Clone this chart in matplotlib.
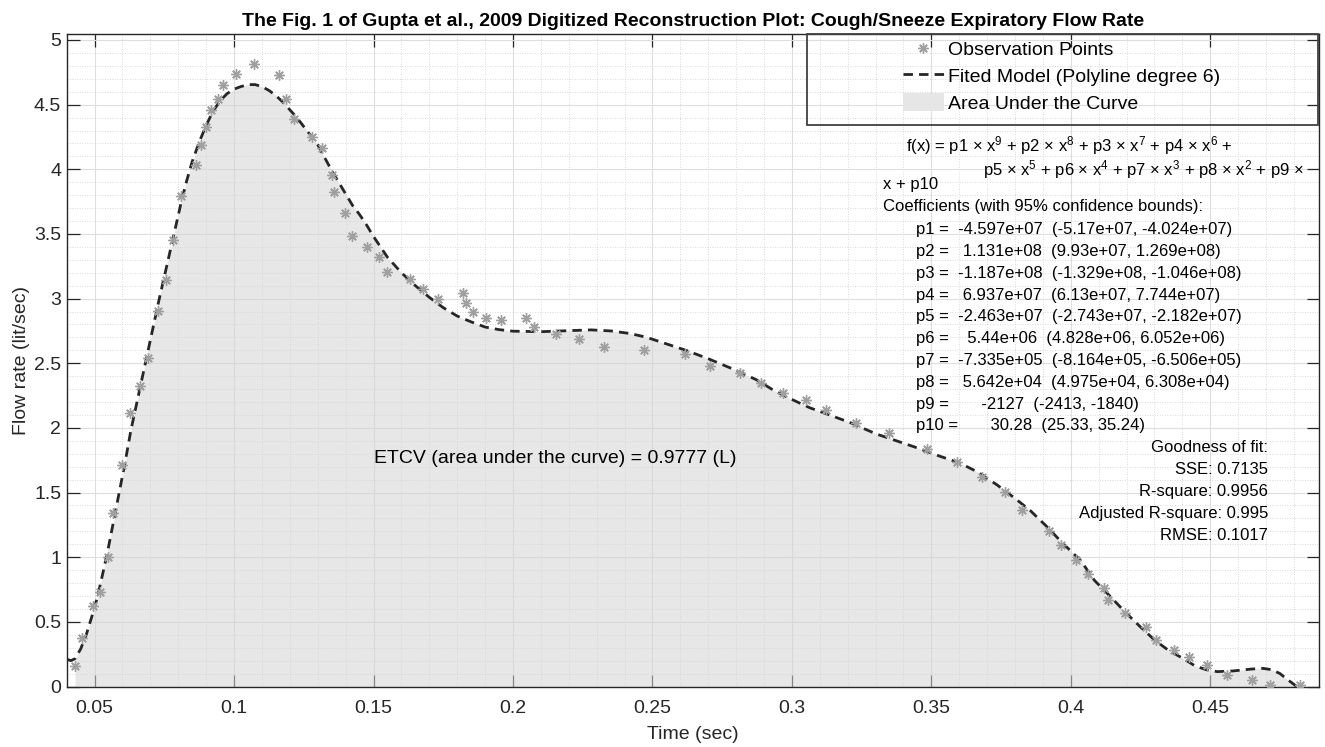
import numpy as np
import matplotlib
matplotlib.use('Agg')
import matplotlib.pyplot as plt
from matplotlib.lines import Line2D
from matplotlib.patches import Patch, Rectangle

plt.rcParams['font.family'] = ['Liberation Sans', 'DejaVu Sans']
plt.rcParams['mathtext.fontset'] = 'custom'
plt.rcParams['mathtext.rm'] = 'Liberation Sans'
plt.rcParams['mathtext.default'] = 'regular'

obs_t = [0.0428, 0.0456, 0.0493, 0.0520, 0.0548, 0.0565, 0.0599, 0.0627, 0.0664, 0.0691,
         0.0727, 0.0756, 0.0781, 0.0808, 0.0862, 0.0881, 0.0899, 0.0917, 0.0943, 0.0962,
         0.1008, 0.1070, 0.1162, 0.1188, 0.1215, 0.1278, 0.1316, 0.1350, 0.1360, 0.1396,
         0.1424, 0.1477, 0.1521, 0.1549, 0.1632, 0.1677, 0.1731, 0.1820, 0.1830, 0.1857,
         0.1903, 0.1957, 0.2046, 0.2075, 0.2155, 0.2237, 0.2327, 0.2471, 0.2615, 0.2706,
         0.2814, 0.2888, 0.2968, 0.3051, 0.3123, 0.3230, 0.3348, 0.3483, 0.3591, 0.3683,
         0.3763, 0.3826, 0.3921, 0.3964, 0.4019, 0.4062, 0.4118, 0.4134, 0.4195, 0.4268,
         0.4306, 0.4369, 0.4425, 0.4487, 0.4559, 0.4649, 0.4714, 0.4820]
obs_q = [0.161, 0.373, 0.625, 0.729, 1.004, 1.344, 1.711, 2.113, 2.324, 2.538,
         2.904, 3.144, 3.451, 3.791, 4.031, 4.188, 4.325, 4.461, 4.546, 4.652,
         4.737, 4.812, 4.729, 4.546, 4.389, 4.252, 4.167, 3.957, 3.828, 3.664,
         3.483, 3.399, 3.324, 3.208, 3.149, 3.072, 2.999, 3.046, 2.964, 2.899,
         2.848, 2.835, 2.848, 2.778, 2.726, 2.685, 2.623, 2.604, 2.572, 2.475,
         2.426, 2.350, 2.268, 2.212, 2.138, 2.040, 1.961, 1.838, 1.734, 1.619,
         1.503, 1.365, 1.205, 1.092, 0.978, 0.870, 0.764, 0.671, 0.568, 0.460,
         0.362, 0.280, 0.226, 0.164, 0.087, 0.048, 0.014, 0.012]

# fitted model
fit_t = [0.0401, 0.0415, 0.043, 0.045, 0.047, 0.049, 0.051, 0.053, 0.055, 0.057,
         0.059, 0.061, 0.063, 0.065, 0.067, 0.069, 0.071, 0.073, 0.075, 0.077,
         0.079, 0.081, 0.083, 0.085, 0.0875, 0.090, 0.0925, 0.095, 0.0975, 0.100,
         0.1025, 0.105, 0.1075, 0.110, 0.1125, 0.115, 0.1175, 0.120, 0.1225, 0.125,
         0.1275, 0.130, 0.1325, 0.135, 0.1375, 0.140, 0.1425, 0.145, 0.1475, 0.150,
         0.1525, 0.155, 0.1575, 0.160, 0.165, 0.170, 0.175, 0.180, 0.185, 0.190,
         0.195, 0.200, 0.210, 0.220, 0.228, 0.235, 0.242, 0.248, 0.255, 0.262,
         0.270, 0.280, 0.2875, 0.2935, 0.300, 0.3065, 0.3135, 0.321, 0.330, 0.3375,
         0.345, 0.3525, 0.360, 0.3665, 0.3735, 0.380, 0.3855, 0.391, 0.397, 0.4035,
         0.4085, 0.414, 0.4195, 0.425, 0.430, 0.435, 0.440, 0.4445, 0.4485, 0.4525,
         0.458, 0.4648, 0.469, 0.472, 0.475, 0.477, 0.481]
fit_q = [0.21, 0.20, 0.215, 0.29, 0.40, 0.54, 0.69, 0.88, 1.08, 1.30,
         1.52, 1.74, 1.98, 2.18, 2.38, 2.58, 2.78, 2.98, 3.17, 3.36,
         3.55, 3.74, 3.91, 4.06, 4.21, 4.34, 4.45, 4.53, 4.585, 4.62,
         4.64, 4.655, 4.655, 4.64, 4.61, 4.57, 4.52, 4.46, 4.40, 4.33,
         4.26, 4.19, 4.09, 3.99, 3.90, 3.81, 3.72, 3.65, 3.57, 3.48,
         3.40, 3.32, 3.26, 3.20, 3.10, 3.01, 2.93, 2.865, 2.82, 2.78,
         2.76, 2.748, 2.744, 2.752, 2.758, 2.75, 2.73, 2.70, 2.65, 2.60,
         2.535, 2.445, 2.37, 2.29, 2.22, 2.155, 2.10, 2.04, 1.955, 1.90,
         1.845, 1.785, 1.73, 1.66, 1.56, 1.455, 1.36, 1.245, 1.11, 0.975,
         0.82, 0.70, 0.575, 0.46, 0.36, 0.28, 0.22, 0.16, 0.13, 0.115,
         0.12, 0.135, 0.14, 0.13, 0.10, 0.065, 0.0]

x_ticks = [0.05, 0.1, 0.15, 0.2, 0.25, 0.3, 0.35, 0.4, 0.45]
x_tick_labels = ['0.05', '0.1', '0.15', '0.2', '0.25', '0.3', '0.35', '0.4', '0.45']
y_ticks = [0, 0.5, 1, 1.5, 2, 2.5, 3, 3.5, 4, 4.5, 5]
y_tick_labels = ['0', '0.5', '1', '1.5', '2', '2.5', '3', '3.5', '4', '4.5', '5']

fit_text = [
    'f(x) = p1 × x$^9$ + p2 × x$^8$ + p3 × x$^7$ + p4 × x$^6$ +',
    'p5 × x$^5$ + p6 × x$^4$ + p7 × x$^3$ + p8 × x$^2$ + p9 ×',
    'x + p10',
    'Coefficients (with 95% confidence bounds):',
]
coef_lines = [
    'p1 =  -4.597e+07  (-5.17e+07, -4.024e+07)',
    'p2 =   1.131e+08  (9.93e+07, 1.269e+08)',
    'p3 =  -1.187e+08  (-1.329e+08, -1.046e+08)',
    'p4 =   6.937e+07  (6.13e+07, 7.744e+07)',
    'p5 =  -2.463e+07  (-2.743e+07, -2.182e+07)',
    'p6 =    5.44e+06  (4.828e+06, 6.052e+06)',
    'p7 =  -7.335e+05  (-8.164e+05, -6.506e+05)',
    'p8 =   5.642e+04  (4.975e+04, 6.308e+04)',
    'p9 =       -2127  (-2413, -1840)',
    'p10 =       30.28  (25.33, 35.24)',
]
gof_lines = ['Goodness of fit:', 'SSE: 0.7135', 'R-square: 0.9956',
             'Adjusted R-square: 0.995', 'RMSE: 0.1017']

W, H = 1325, 747
fig = plt.figure(figsize=(W / 100, H / 100), dpi=100)
ax = fig.add_axes([66.7 / W, 1 - 686.5 / H, (1318.5 - 66.7) / W, (686.5 - 34.3) / H])

txt = '#262626'

fit_t = np.array(fit_t)
fit_q = np.array(fit_q)
ax.fill_between(fit_t, fit_q, where=fit_t >= obs_t[0], color='#d4d4d4', alpha=0.55,
                linewidth=0, zorder=1)
ax.plot(fit_t, fit_q, color='#262626', lw=2.0, dashes=(3.4, 2.2), zorder=3)
ax.plot(obs_t, obs_q, linestyle='none', marker=(8, 2, 0), markersize=7.5,
        markeredgewidth=1.0, color='#a0a0a0', zorder=4)

ax.set_xlim(0.0401, 0.4888)
ax.set_ylim(0, 5.044)
ax.set_xticks(x_ticks)
ax.set_xticklabels(x_tick_labels)
ax.set_yticks(y_ticks)
ax.set_yticklabels(y_tick_labels)
ax.set_xticks(np.arange(0.04, 0.49, 0.01), minor=True)
ax.set_yticks(np.arange(0, 5.05, 0.1), minor=True)
ax.tick_params(which='major', direction='in', length=9, width=0.9, colors=txt,
               labelsize=14, top=True, right=True)
ax.tick_params(axis='x', which='major', pad=10)
ax.tick_params(axis='y', which='major', pad=4)
ax.tick_params(which='minor', length=0, top=True, right=True)
ax.grid(which='major', color='#dedede', lw=0.8, zorder=0)
ax.grid(which='minor', color='#cfcfcf', lw=0.6, linestyle=(0, (1, 2)), zorder=0)
ax.set_axisbelow(True)
for s in ax.spines.values():
    s.set_color(txt)
    s.set_linewidth(1.0)

ax.set_xlabel('Time (sec)', fontsize=14, color=txt, labelpad=6)
ax.set_ylabel('Flow rate (lit/sec)', fontsize=14, color=txt, labelpad=3)
ax.set_title('The Fig. 1 of Gupta et al., 2009 Digitized Reconstruction Plot: Cough/Sneeze Expiratory Flow Rate',
             fontsize=14, fontweight='bold', color='black', pad=6)

# legend box
ax.add_patch(Rectangle(((807 - 66.7) / (1318.5 - 66.7), (686.5 - 125) / (686.5 - 34.3)),
                       (1317.5 - 807) / (1318.5 - 66.7), (125 - 33.5) / (686.5 - 34.3),
                       transform=ax.transAxes, fill=False, edgecolor='#404040', lw=1.3,
                       clip_on=False, zorder=6))
handles = [Line2D([], [], linestyle='none', marker=(8, 2, 0), markersize=7.5,
                  markeredgewidth=1.0, color='#a0a0a0'),
           Line2D([], [], color='#262626', lw=2.0, dashes=(3.4, 2.2)),
           Patch(facecolor='#e6e6e6', edgecolor='none')]
labels = ['Observation Points', 'Fited Model (Polyline degree 6)', 'Area Under the Curve']
ax.legend(handles, labels, loc='upper left',
          bbox_to_anchor=((903 - 66.7) / (1318.5 - 66.7), (686.5 - 40) / (686.5 - 34.3)),
          frameon=False, fontsize=14, borderpad=0, borderaxespad=0, labelspacing=0.38,
          handlelength=2.1, handleheight=1.0, handletextpad=0.2, labelcolor='black')


def fx(px):
    return px / W


def fy(py):
    return 1 - py / H


ax.text(0.15, 1.767, 'ETCV (area under the curve) = 0.9777 (L)', fontsize=14,
        color='black', ha='left', va='center')

fig.text(fx(906), fy(151.7), fit_text[0], fontsize=12, color='black', va='baseline')
fig.text(fx(982.7), fy(175.7), fit_text[1], fontsize=12, color='black', va='baseline')
fig.text(fx(882.7), fy(189), fit_text[2], fontsize=12, color='black', va='baseline')
fig.text(fx(882.7), fy(210.7), fit_text[3], fontsize=12, color='black', va='baseline')
for i, line in enumerate(coef_lines):
    fig.text(fx(916), fy(234.2 + 21.8 * i), line, fontsize=12, color='black', va='baseline')
for i, line in enumerate(gof_lines):
    fig.text(fx(1268), fy(452.3 + 21.8 * i), line, fontsize=12, color='black',
             va='baseline', ha='right')

fig.savefig('out.png', dpi=100)
